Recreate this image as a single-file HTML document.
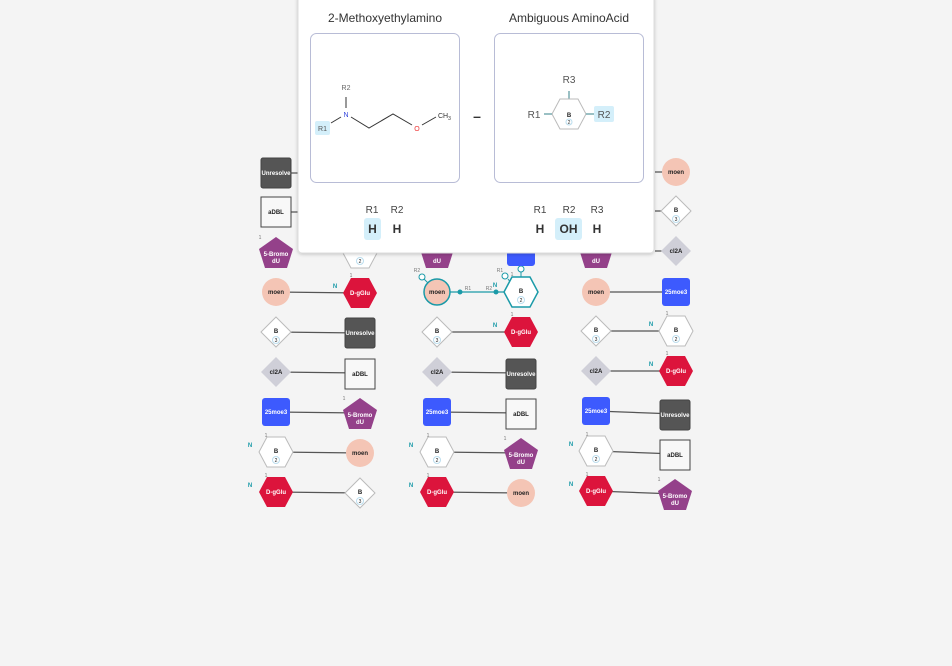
<!DOCTYPE html>
<html><head><meta charset="utf-8"><style>
html,body{margin:0;padding:0;background:#f4f4f4;}
svg{display:block;font-family:"Liberation Sans",sans-serif;}
.t{font-size:6px;font-weight:bold;text-anchor:middle;}
.w{fill:#fff}.k{fill:#222}
.n{font-size:6px;fill:#1a9aa8;font-weight:bold;text-anchor:middle}
.o{font-size:5px;fill:#777;text-anchor:middle}
.ln{stroke:#555;stroke-width:1.2}
</style></head><body>
<svg width="952" height="666" viewBox="0 0 952 666">
<defs>
<filter id="sh" x="-5%" y="-5%" width="110%" height="115%"><feDropShadow dx="0" dy="1" stdDeviation="1.5" flood-color="#000" flood-opacity="0.2"/></filter>
</defs>
<!-- connectors -->
<g class="ln">
<line x1="276" y1="173" x2="300" y2="173"/><line x1="276" y1="212" x2="300" y2="212"/>
<line x1="655" y1="172" x2="676" y2="172"/><line x1="655" y1="211" x2="676" y2="211"/><line x1="655" y1="251" x2="676" y2="251"/>
<line x1="276" y1="292" x2="360" y2="293"/><line x1="596" y1="292" x2="676" y2="292"/>
<line x1="276" y1="332" x2="360" y2="333"/><line x1="437" y1="332" x2="521" y2="332"/><line x1="596" y1="331" x2="676" y2="331"/>
<line x1="276" y1="372" x2="360" y2="373"/><line x1="437" y1="372" x2="521" y2="373"/><line x1="596" y1="371" x2="676" y2="371"/>
<line x1="276" y1="412" x2="360" y2="413"/><line x1="437" y1="412" x2="521" y2="413"/><line x1="596" y1="411" x2="676" y2="414"/>
<line x1="276" y1="452" x2="360" y2="453"/><line x1="437" y1="452" x2="521" y2="453"/><line x1="596" y1="451" x2="676" y2="454"/>
<line x1="276" y1="492" x2="360" y2="493"/><line x1="437" y1="492" x2="521" y2="493"/><line x1="596" y1="491" x2="676" y2="494"/>
</g>
<line x1="437" y1="292" x2="521" y2="292" stroke="#1a9aa8" stroke-width="1.2"/>
<circle cx="460" cy="292" r="2.5" fill="#1a9aa8"/><circle cx="496" cy="292" r="2.5" fill="#1a9aa8"/>
<text x="468" y="290" class="o">R1</text><text x="489" y="290" class="o">R2</text>
<line x1="424" y1="279" x2="429" y2="284" stroke="#1a9aa8"/><circle cx="422" cy="277" r="3" fill="#fff" stroke="#1a9aa8"/><text x="417" y="272" class="o">R2</text>
<line x1="508" y1="279" x2="511" y2="283" stroke="#1a9aa8"/><circle cx="505" cy="276" r="3" fill="#fff" stroke="#1a9aa8"/><text x="500" y="272" class="o">R1</text>
<line x1="521" y1="262" x2="521" y2="277" stroke="#1a9aa8"/><circle cx="521" cy="269" r="3" fill="#fff" stroke="#1a9aa8"/>

<!-- Unresolve -->
<g transform="translate(276,173)"><rect x="-15" y="-15" width="30" height="30" rx="2" fill="#555" stroke="#444"/><text class="t w" y="2">Unresolve</text></g>
<g transform="translate(360,333)"><rect x="-15" y="-15" width="30" height="30" rx="2" fill="#555" stroke="#444"/><text class="t w" y="2">Unresolve</text></g>
<g transform="translate(521,374)"><rect x="-15" y="-15" width="30" height="30" rx="2" fill="#555" stroke="#444"/><text class="t w" y="2">Unresolve</text></g>
<g transform="translate(675,415)"><rect x="-15" y="-15" width="30" height="30" rx="2" fill="#555" stroke="#444"/><text class="t w" y="2">Unresolve</text></g>
<!-- aDBL -->
<g transform="translate(276,212)"><rect x="-15" y="-15" width="30" height="30" fill="#f8f8f8" stroke="#444"/><text class="t k" y="2">aDBL</text></g>
<g transform="translate(360,374)"><rect x="-15" y="-15" width="30" height="30" fill="#f8f8f8" stroke="#444"/><text class="t k" y="2">aDBL</text></g>
<g transform="translate(521,414)"><rect x="-15" y="-15" width="30" height="30" fill="#f8f8f8" stroke="#444"/><text class="t k" y="2">aDBL</text></g>
<g transform="translate(675,455)"><rect x="-15" y="-15" width="30" height="30" fill="#f8f8f8" stroke="#444"/><text class="t k" y="2">aDBL</text></g>
<!-- blue -->
<g transform="translate(276,412)"><rect x="-14" y="-14" width="28" height="28" rx="3" fill="#3d5afe"/><text class="t w" y="2">25moe3</text></g>
<g transform="translate(437,412)"><rect x="-14" y="-14" width="28" height="28" rx="3" fill="#3d5afe"/><text class="t w" y="2">25moe3</text></g>
<g transform="translate(596,411)"><rect x="-14" y="-14" width="28" height="28" rx="3" fill="#3d5afe"/><text class="t w" y="2">25moe3</text></g>
<g transform="translate(676,292)"><rect x="-14" y="-14" width="28" height="28" rx="3" fill="#3d5afe"/><text class="t w" y="2">25moe3</text></g>
<g transform="translate(521,252)"><rect x="-14" y="-14" width="28" height="28" rx="3" fill="#3d5afe"/></g>
<!-- moen -->
<g transform="translate(276,292)"><circle r="14" fill="#f4c5b5"/><text class="t k" y="2">moen</text></g>
<g transform="translate(437,292)"><circle r="13" fill="#f4c5b5" stroke="#1a9aa8" stroke-width="1.5"/><text class="t k" y="2">moen</text></g>
<g transform="translate(596,292)"><circle r="14" fill="#f4c5b5"/><text class="t k" y="2">moen</text></g>
<g transform="translate(676,172)"><circle r="14" fill="#f4c5b5"/><text class="t k" y="2">moen</text></g>
<g transform="translate(360,453)"><circle r="14" fill="#f4c5b5"/><text class="t k" y="2">moen</text></g>
<g transform="translate(521,493)"><circle r="14" fill="#f4c5b5"/><text class="t k" y="2">moen</text></g>
<!-- pentagons -->
<g transform="translate(276,252)"><polygon points="0,-15 17,-3 11,16 -11,16 -17,-3" fill="#94418a"/><text class="t w" y="4">5-Bromo</text><text class="t w" y="11">dU</text></g>
<g transform="translate(437,252)"><polygon points="0,-15 17,-3 11,16 -11,16 -17,-3" fill="#94418a"/><text class="t w" y="11">dU</text></g>
<g transform="translate(596,252)"><polygon points="0,-15 17,-3 11,16 -11,16 -17,-3" fill="#94418a"/><text class="t w" y="11">dU</text></g>
<g transform="translate(360,413)"><polygon points="0,-15 17,-3 11,16 -11,16 -17,-3" fill="#94418a"/><text class="t w" y="4">5-Bromo</text><text class="t w" y="11">dU</text></g>
<g transform="translate(521,453)"><polygon points="0,-15 17,-3 11,16 -11,16 -17,-3" fill="#94418a"/><text class="t w" y="4">5-Bromo</text><text class="t w" y="11">dU</text></g>
<g transform="translate(675,494)"><polygon points="0,-15 17,-3 11,16 -11,16 -17,-3" fill="#94418a"/><text class="t w" y="4">5-Bromo</text><text class="t w" y="11">dU</text></g>
<!-- red hex -->
<g transform="translate(360,293)"><polygon points="-17,0 -9,-15 9,-15 17,0 9,15 -9,15" fill="#dc143c"/><text class="t w" y="2">D-gGlu</text></g>
<g transform="translate(521,332)"><polygon points="-17,0 -9,-15 9,-15 17,0 9,15 -9,15" fill="#dc143c"/><text class="t w" y="2">D-gGlu</text></g>
<g transform="translate(676,371)"><polygon points="-17,0 -9,-15 9,-15 17,0 9,15 -9,15" fill="#dc143c"/><text class="t w" y="2">D-gGlu</text></g>
<g transform="translate(276,492)"><polygon points="-17,0 -9,-15 9,-15 17,0 9,15 -9,15" fill="#dc143c"/><text class="t w" y="2">D-gGlu</text></g>
<g transform="translate(437,492)"><polygon points="-17,0 -9,-15 9,-15 17,0 9,15 -9,15" fill="#dc143c"/><text class="t w" y="2">D-gGlu</text></g>
<g transform="translate(596,491)"><polygon points="-17,0 -9,-15 9,-15 17,0 9,15 -9,15" fill="#dc143c"/><text class="t w" y="2">D-gGlu</text></g>
<!-- white hex B2 -->
<g transform="translate(360,253)"><polygon points="-17,0 -9,-15 9,-15 17,0 9,15 -9,15" fill="#fff" stroke="#bbb"/><text class="t k" y="-1">B</text><circle cy="8" r="3.5" fill="#fff" stroke="#bde"/><text class="t k" y="10" style="font-size:5px;font-weight:normal">2</text></g>
<g transform="translate(521,292)"><polygon points="-17,0 -9,-15 9,-15 17,0 9,15 -9,15" fill="#fff" stroke="#1a9aa8" stroke-width="1.5"/><text class="t k" y="1">B</text><circle cy="8" r="3.5" fill="#fff" stroke="#bde"/><text class="t k" y="10" style="font-size:5px;font-weight:normal">2</text></g>
<g transform="translate(676,331)"><polygon points="-17,0 -9,-15 9,-15 17,0 9,15 -9,15" fill="#fff" stroke="#bbb"/><text class="t k" y="1">B</text><circle cy="8" r="3.5" fill="#fff" stroke="#bde"/><text class="t k" y="10" style="font-size:5px;font-weight:normal">2</text></g>
<g transform="translate(276,452)"><polygon points="-17,0 -9,-15 9,-15 17,0 9,15 -9,15" fill="#fff" stroke="#bbb"/><text class="t k" y="1">B</text><circle cy="8" r="3.5" fill="#fff" stroke="#bde"/><text class="t k" y="10" style="font-size:5px;font-weight:normal">2</text></g>
<g transform="translate(437,452)"><polygon points="-17,0 -9,-15 9,-15 17,0 9,15 -9,15" fill="#fff" stroke="#bbb"/><text class="t k" y="1">B</text><circle cy="8" r="3.5" fill="#fff" stroke="#bde"/><text class="t k" y="10" style="font-size:5px;font-weight:normal">2</text></g>
<g transform="translate(596,451)"><polygon points="-17,0 -9,-15 9,-15 17,0 9,15 -9,15" fill="#fff" stroke="#bbb"/><text class="t k" y="1">B</text><circle cy="8" r="3.5" fill="#fff" stroke="#bde"/><text class="t k" y="10" style="font-size:5px;font-weight:normal">2</text></g>
<!-- diamonds B3 -->
<g transform="translate(276,332)"><polygon points="0,-15 15,0 0,15 -15,0" fill="#fff" stroke="#bbb"/><text class="t k" y="1">B</text><circle cy="8" r="3.5" fill="#fff" stroke="#bde"/><text class="t k" y="10" style="font-size:5px;font-weight:normal">3</text></g>
<g transform="translate(437,332)"><polygon points="0,-15 15,0 0,15 -15,0" fill="#fff" stroke="#bbb"/><text class="t k" y="1">B</text><circle cy="8" r="3.5" fill="#fff" stroke="#bde"/><text class="t k" y="10" style="font-size:5px;font-weight:normal">3</text></g>
<g transform="translate(596,331)"><polygon points="0,-15 15,0 0,15 -15,0" fill="#fff" stroke="#bbb"/><text class="t k" y="1">B</text><circle cy="8" r="3.5" fill="#fff" stroke="#bde"/><text class="t k" y="10" style="font-size:5px;font-weight:normal">3</text></g>
<g transform="translate(676,211)"><polygon points="0,-15 15,0 0,15 -15,0" fill="#fff" stroke="#bbb"/><text class="t k" y="1">B</text><circle cy="8" r="3.5" fill="#fff" stroke="#bde"/><text class="t k" y="10" style="font-size:5px;font-weight:normal">3</text></g>
<g transform="translate(360,493)"><polygon points="0,-15 15,0 0,15 -15,0" fill="#fff" stroke="#bbb"/><text class="t k" y="1">B</text><circle cy="8" r="3.5" fill="#fff" stroke="#bde"/><text class="t k" y="10" style="font-size:5px;font-weight:normal">3</text></g>
<!-- cl2A -->
<g transform="translate(276,372)"><polygon points="0,-15 15,0 0,15 -15,0" fill="#cfcfd8"/><text class="t k" y="2">cl2A</text></g>
<g transform="translate(437,372)"><polygon points="0,-15 15,0 0,15 -15,0" fill="#cfcfd8"/><text class="t k" y="2">cl2A</text></g>
<g transform="translate(596,371)"><polygon points="0,-15 15,0 0,15 -15,0" fill="#cfcfd8"/><text class="t k" y="2">cl2A</text></g>
<g transform="translate(676,251)"><polygon points="0,-15 15,0 0,15 -15,0" fill="#cfcfd8"/><text class="t k" y="2">cl2A</text></g>
<!-- small labels -->
<text class="n" x="335" y="288">N</text><text class="n" x="495" y="327">N</text><text class="n" x="651" y="326">N</text><text class="n" x="651" y="366">N</text>
<text class="n" x="250" y="447">N</text><text class="n" x="411" y="447">N</text><text class="n" x="571" y="446">N</text>
<text class="n" x="250" y="487">N</text><text class="n" x="411" y="487">N</text><text class="n" x="571" y="486">N</text>
<text class="n" x="495" y="287">N</text>
<text class="o" x="260" y="239">1</text><text class="o" x="351" y="277">1</text><text class="o" x="512" y="316">1</text><text class="o" x="667" y="315">1</text><text class="o" x="667" y="355">1</text>
<text class="o" x="344" y="400">1</text><text class="o" x="266" y="437">1</text><text class="o" x="428" y="437">1</text><text class="o" x="505" y="440">1</text><text class="o" x="587" y="436">1</text>
<text class="o" x="266" y="477">1</text><text class="o" x="428" y="477">1</text><text class="o" x="587" y="476">1</text><text class="o" x="659" y="481">1</text><text class="o" x="512" y="276">1</text>

<!-- panel -->
<rect x="298" y="-6" width="356" height="259" rx="4" fill="#fff" stroke="#ddd" filter="url(#sh)"/>
<text x="385" y="22" font-size="12" fill="#333" text-anchor="middle">2-Methoxyethylamino</text>
<text x="569" y="22" font-size="12" fill="#333" text-anchor="middle">Ambiguous AminoAcid</text>
<rect x="310.5" y="33.5" width="149" height="149" rx="6" fill="#fff" stroke="#b8bcd6"/>
<rect x="494.5" y="33.5" width="149" height="149" rx="6" fill="#fff" stroke="#b8bcd6"/>
<!-- molecule 1 -->
<text x="346" y="90" font-size="7" fill="#666" text-anchor="middle">R2</text>
<line x1="346" y1="97" x2="346" y2="108" stroke="#333"/>
<text x="346" y="117" font-size="7" fill="#3344dd" text-anchor="middle">N</text>
<rect x="315" y="121" width="15" height="14" rx="2" fill="#d4effa"/>
<text x="322.5" y="131" font-size="7" fill="#555" text-anchor="middle">R1</text>
<polyline points="331,123 341,117" fill="none" stroke="#333"/>
<polyline points="351,117 369,128 393,114 412,125" fill="none" stroke="#333"/>
<line x1="422" y1="125" x2="436" y2="117" stroke="#333"/>
<text x="417" y="131" font-size="7" fill="#e33" text-anchor="middle">O</text>
<text x="438" y="118" font-size="7" fill="#333">CH<tspan font-size="5" dy="2">3</tspan></text>
<text x="477" y="121" font-size="14" font-weight="bold" fill="#333" text-anchor="middle">–</text>
<!-- molecule 2 -->
<text x="569" y="83" font-size="10" fill="#555" text-anchor="middle">R3</text>
<line x1="569" y1="91" x2="569" y2="99" stroke="#79aab0" stroke-width="1.5"/>
<polygon points="552,114 560,99 578,99 586,114 578,129 560,129" fill="#fff" stroke="#bbb"/>
<text x="569" y="117" font-size="6" font-weight="bold" fill="#222" text-anchor="middle">B</text>
<circle cx="569" cy="122" r="3" fill="#fff" stroke="#bde"/><text x="569" y="124" font-size="5" fill="#333" text-anchor="middle">2</text>
<line x1="544" y1="114" x2="552" y2="114" stroke="#79aab0" stroke-width="1.5"/>
<line x1="586" y1="114" x2="594" y2="114" stroke="#79aab0" stroke-width="1.5"/>
<text x="534" y="118" font-size="10" fill="#555" text-anchor="middle">R1</text>
<rect x="594" y="106" width="20" height="16" rx="2" fill="#d4effa"/>
<text x="604" y="118" font-size="10" fill="#555" text-anchor="middle">R2</text>
<!-- tables -->
<g font-size="10" fill="#444" text-anchor="middle">
<text x="372" y="213">R1</text><text x="397" y="213">R2</text>
<text x="540" y="213">R1</text><text x="569" y="213">R2</text><text x="597" y="213">R3</text>
</g>
<rect x="364" y="218" width="17" height="22" rx="3" fill="#d4effa"/>
<rect x="555" y="218" width="27" height="22" rx="3" fill="#d4effa"/>
<g font-size="12" font-weight="bold" fill="#333" text-anchor="middle">
<text x="372.5" y="233">H</text><text x="397" y="233">H</text>
<text x="540" y="233">H</text><text x="568.5" y="233">OH</text><text x="597" y="233">H</text>
</g>
</svg>
</body></html>
